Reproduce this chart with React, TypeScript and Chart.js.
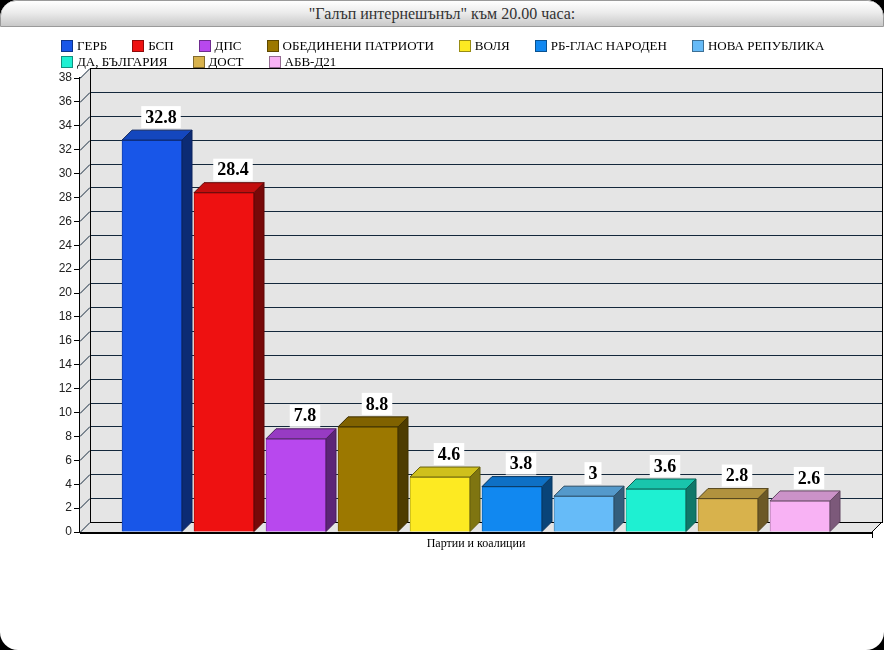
import { useEffect, useRef } from 'react';
import { Chart, registerables } from 'chart.js';

Chart.register(...registerables);

const parties = [
  'ГЕРБ',
  'БСП',
  'ДПС',
  'ОБЕДИНЕНИ ПАТРИОТИ',
  'ВОЛЯ',
  'РБ-ГЛАС НАРОДЕН',
  'НОВА РЕПУБЛИКА',
  'ДА, БЪЛГАРИЯ',
  'ДОСТ',
  'АБВ-Д21',
];
const values = [32.8, 28.4, 7.8, 8.8, 4.6, 3.8, 3, 3.6, 2.8, 2.6];
const colors = [
  '#1856e8',
  '#ee1111',
  '#b848ee',
  '#9c7800',
  '#fdea22',
  '#1188f0',
  '#66bbf8',
  '#1ef0d2',
  '#d8b24c',
  '#f8b2f4',
];
const yMax = 38;
const yStep = 2;

const DEPTH = 10;

// darken a hex colour by factor f
function shade(hex: string, f: number) {
  const n = parseInt(hex.slice(1), 16);
  const r = Math.round(((n >> 16) & 255) * f);
  const g = Math.round(((n >> 8) & 255) * f);
  const b = Math.round((n & 255) * f);
  return `rgb(${r},${g},${b})`;
}

const box3d = {
  id: 'box3d',
  beforeDatasetsDraw(chart: any) {
    const { ctx, chartArea: a, scales } = chart;
    const y = scales.y;
    ctx.save();
    // walls + floor
    ctx.fillStyle = '#e5e5e5';
    ctx.beginPath();
    ctx.moveTo(a.left, a.bottom);
    ctx.lineTo(a.left, a.top);
    ctx.lineTo(a.left + DEPTH, a.top - DEPTH);
    ctx.lineTo(a.right + DEPTH, a.top - DEPTH);
    ctx.lineTo(a.right + DEPTH, a.bottom - DEPTH);
    ctx.lineTo(a.right, a.bottom);
    ctx.closePath();
    ctx.fill();

    // grid lines on the back wall
    ctx.strokeStyle = '#14283c';
    ctx.lineWidth = 1;
    for (let v = 0; v <= yMax; v += yStep) {
      const py = Math.round(y.getPixelForValue(v)) + 0.5;
      ctx.beginPath();
      ctx.moveTo(a.left, py);
      ctx.lineTo(a.left + DEPTH, py - DEPTH);
      ctx.lineTo(a.right + DEPTH, py - DEPTH);
      ctx.stroke();
    }
    ctx.strokeStyle = '#000';
    ctx.strokeRect(
      a.left + DEPTH + 0.5,
      a.top - DEPTH + 0.5,
      a.right - a.left,
      a.bottom - a.top
    );
    ctx.beginPath();
    ctx.moveTo(a.right, a.bottom);
    ctx.lineTo(a.right + DEPTH, a.bottom - DEPTH);
    ctx.moveTo(a.right + 0.5, a.bottom);
    ctx.lineTo(a.right + 0.5, a.bottom + 6);
    ctx.stroke();
    ctx.restore();
  },
  afterDatasetsDraw(chart: any) {
    const { ctx, chartArea: a } = chart;
    const meta = chart.getDatasetMeta(0);
    ctx.save();
    meta.data.forEach((bar: any, i: number) => {
      const { x, y, base, width } = bar.getProps(['x', 'y', 'base', 'width'], true);
      const l = x - width / 2;
      const r = x + width / 2;
      const c = colors[i];
      // side face
      ctx.fillStyle = shade(c, 0.5);
      ctx.strokeStyle = shade(c, 0.4);
      ctx.lineWidth = 1;
      ctx.beginPath();
      ctx.moveTo(r, y);
      ctx.lineTo(r + DEPTH, y - DEPTH);
      ctx.lineTo(r + DEPTH, base - DEPTH);
      ctx.lineTo(r, base);
      ctx.closePath();
      ctx.fill();
      ctx.stroke();
      // top face
      ctx.fillStyle = shade(c, 0.82);
      ctx.beginPath();
      ctx.moveTo(l, y);
      ctx.lineTo(l + DEPTH, y - DEPTH);
      ctx.lineTo(r + DEPTH, y - DEPTH);
      ctx.lineTo(r, y);
      ctx.closePath();
      ctx.fill();
      ctx.stroke();

      // value label
      const txt = String(values[i]);
      ctx.font = 'bold 18px "Liberation Serif", serif';
      const tw = ctx.measureText(txt).width;
      const cx = x + 9;
      const bw = tw + 8;
      const bh = 22;
      const by = y - DEPTH - 2 - bh;
      ctx.fillStyle = '#fff';
      ctx.fillRect(cx - bw / 2, by, bw, bh);
      ctx.fillStyle = '#000';
      ctx.textAlign = 'center';
      ctx.textBaseline = 'middle';
      ctx.fillText(txt, cx, by + bh / 2 + 1);
    });
    // front floor edge
    ctx.strokeStyle = '#000';
    ctx.lineWidth = 2;
    ctx.beginPath();
    ctx.moveTo(a.left, a.bottom + 1);
    ctx.lineTo(a.right, a.bottom + 1);
    ctx.stroke();
    ctx.restore();
  },
};

export default function App() {
  const canvasRef = useRef<HTMLCanvasElement>(null);
  const chartRef = useRef<Chart | null>(null);

  useEffect(() => {
    if (chartRef.current) {
      chartRef.current.destroy();
      chartRef.current = null;
    }
    const ctx = canvasRef.current?.getContext('2d');
    if (!ctx) return;

    chartRef.current = new Chart(ctx, {
      type: 'bar',
      data: {
        labels: parties,
        datasets: [
          {
            data: values.map((v, i) => ({ x: i, y: v })),
            backgroundColor: colors,
            borderColor: colors.map((c) => shade(c, 0.75)),
            borderWidth: 1,
            barThickness: 60,
          },
        ],
      },
      plugins: [box3d],
      options: {
        animation: false,
        responsive: true,
        maintainAspectRatio: false,
        layout: { padding: { top: 78, right: 12, bottom: 118, left: 0 } },
        plugins: {
          legend: { display: false },
          tooltip: { enabled: false },
        },
        scales: {
          x: { type: 'linear', min: -1, max: 10, offset: false, display: false },
          y: {
            min: 0,
            max: yMax,
            ticks: {
              stepSize: yStep,
              color: '#222',
              padding: 2,
              font: { family: '"Liberation Sans", sans-serif', size: 12 },
            },
            grid: { drawOnChartArea: false, color: '#000', tickLength: 6 },
            border: { color: '#000', width: 2 },
            afterFit: (s: any) => {
              s.width = 80;
            },
          },
        },
      },
    });

    return () => {
      if (chartRef.current) {
        chartRef.current.destroy();
        chartRef.current = null;
      }
    };
  }, []);

  return (
    <div style={{ position: 'absolute', left: 0, top: 0, width: 884, height: 650, background: '#000' }}>
      <div
        style={{
          position: 'absolute',
          inset: 0,
          background: '#fff',
          borderRadius: 18,
          overflow: 'hidden',
          fontFamily: '"Liberation Serif", serif',
        }}
      >
        <div
          style={{
            height: 25,
            background: 'linear-gradient(#ffffff, #ececec 45%, #c9c9c9)',
            border: '1px solid #9a9a9a',
            borderRadius: '16px 16px 0 0',
            textAlign: 'center',
            fontSize: 16,
            lineHeight: '26px',
            color: '#333',
          }}
        >
          "Галъп интернешънъл" към 20.00 часа:
        </div>
        <div
          style={{
            position: 'absolute',
            left: 61,
            top: 38,
            width: 790,
            display: 'flex',
            flexWrap: 'wrap',
            rowGap: 0,
            fontSize: 13,
            lineHeight: '16px',
            color: '#000',
            zIndex: 2,
          }}
        >
          {parties.map((p, i) => (
            <div key={p} style={{ display: 'flex', alignItems: 'center', marginRight: 25 }}>
              <span
                style={{
                  display: 'inline-block',
                  width: 10,
                  height: 10,
                  background: colors[i],
                  border: `1px solid ${shade(colors[i], 0.6)}`,
                  marginRight: 4,
                }}
              />
              <span>{p}</span>
            </div>
          ))}
        </div>
        <div style={{ position: 'absolute', left: 0, top: 0, width: 884, height: 650 }}>
          <canvas ref={canvasRef}></canvas>
        </div>
        <div
          style={{
            position: 'absolute',
            left: 80,
            top: 536,
            width: 792,
            textAlign: 'center',
            fontSize: 12,
            color: '#000',
          }}
        >
          Партии и коалиции
        </div>
      </div>
    </div>
  );
}
